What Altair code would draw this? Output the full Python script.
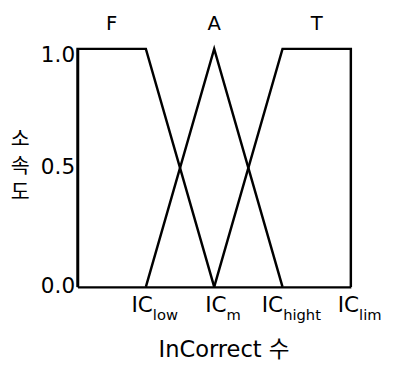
import altair as alt
import pandas as pd

# ---- data ----
series = ["F", "F", "F", "F", "A", "A", "A", "T", "T", "T", "T"]
xs = [0, 0, 1, 2, 1, 2, 3, 2, 3, 4, 4]
ys = [0, 1, 1, 0, 0, 1, 0, 0, 1, 1, 0]
order = [0, 1, 2, 3, 0, 1, 2, 0, 1, 2, 3]

set_names = ["F", "A", "T"]
set_label_x = [0.5, 2, 3.5]

tick_pos = [1, 2, 3, 4]
tick_main = ["IC", "IC", "IC", "IC"]
tick_sub = ["low", "m", "hight", "lim"]

y_ticks = [0.0, 0.5, 1.0]
x_title = "InCorrect 수"
y_title = ["소", "속", "도"]

# ---- layout / style ----
W, H = 279, 243
LATIN = "DejaVu Sans"
MIXED = "'DejaVu Sans', 'Noto Sans CJK KR'"
KOREAN = "Noto Sans CJK KR"
MAIN_FS, SUB_FS = 22, 15

# approximate DejaVu Sans advance widths (per 1000 em) to centre the two-part labels
CW = {"I": 295, "C": 698, "l": 278, "o": 612, "w": 818, "m": 974,
      "h": 634, "i": 278, "g": 635, "t": 392}


def tw(s, fs):
    return sum(CW.get(c, 600) for c in s) * fs / 1000.0


shift_px = [9 + (tw(m, MAIN_FS) - tw(s, SUB_FS)) / 2 for m, s in zip(tick_main, tick_sub)]
xdom = [0, 4]
tick_b = [p + sp * (xdom[1] - xdom[0]) / W for p, sp in zip(tick_pos, shift_px)]

df = pd.DataFrame({"series": series, "x": xs, "y": ys, "ord": order})
lab_df = pd.DataFrame({"name": set_names, "x": set_label_x, "y": [1] * len(set_names)})
tick_df = pd.DataFrame({"x": tick_b, "main": tick_main, "sub": tick_sub, "y": [0] * len(tick_pos)})

xscale = alt.Scale(domain=xdom, nice=False, zero=False)
yscale = alt.Scale(domain=[0, 1], nice=False)

lines = alt.Chart(df).mark_line(color="black", strokeWidth=2.5).encode(
    x=alt.X("x:Q", scale=xscale, axis=alt.Axis(
        values=tick_pos, labels=False, ticks=False, grid=False,
        domainColor="black", domainWidth=2.5,
        title=x_title, titleFont=MIXED, titleFontSize=23, titleFontWeight="normal",
        titleColor="black", titleX=149, titleY=71, titleBaseline="alphabetic",
        titleAlign="center")),
    y=alt.Y("y:Q", scale=yscale, axis=alt.Axis(
        values=y_ticks, format=".1f", ticks=False, tickSize=0, grid=False,
        domainColor="black", domainWidth=2.5, labelFlush=False,
        labelFont=LATIN, labelFontSize=22, labelColor="black", labelPadding=3,
        labelOffset={"condition": {"test": "datum.value == 1", "value": 6}, "value": -1},
        title=y_title, titleAngle=0, titleFont=KOREAN, titleFontSize=21,
        titleFontWeight="normal", titleColor="black", titleLineHeight=27,
        titleX=-59, titleY=93, titleAlign="center", titleBaseline="middle")),
    detail="series:N",
    order="ord:Q",
)

set_labels = alt.Chart(lab_df).mark_text(
    font=LATIN, fontSize=20, color="black", baseline="alphabetic", dy=-19
).encode(
    x=alt.X("x:Q", scale=xscale),
    y=alt.Y("y:Q", scale=yscale),
    text="name:N",
)

main_labels = alt.Chart(tick_df).mark_text(
    font=LATIN, fontSize=MAIN_FS, color="black", align="right", baseline="alphabetic", dy=26
).encode(
    x=alt.X("x:Q", scale=xscale),
    y=alt.Y("y:Q", scale=yscale),
    text="main:N",
)

sub_labels = alt.Chart(tick_df).mark_text(
    font=LATIN, fontSize=SUB_FS, color="black", align="left", baseline="alphabetic", dy=34
).encode(
    x=alt.X("x:Q", scale=xscale),
    y=alt.Y("y:Q", scale=yscale),
    text="sub:N",
)

chart = alt.layer(lines, set_labels, main_labels, sub_labels).properties(
    width=W, height=H,
    autosize=alt.AutoSizeParams(type="none"),
    padding={"left": 71, "top": 38, "right": 41, "bottom": 75},
).configure_view(strokeWidth=0)

chart.save("out.html", embed_options={"renderer": "svg", "actions": False})
